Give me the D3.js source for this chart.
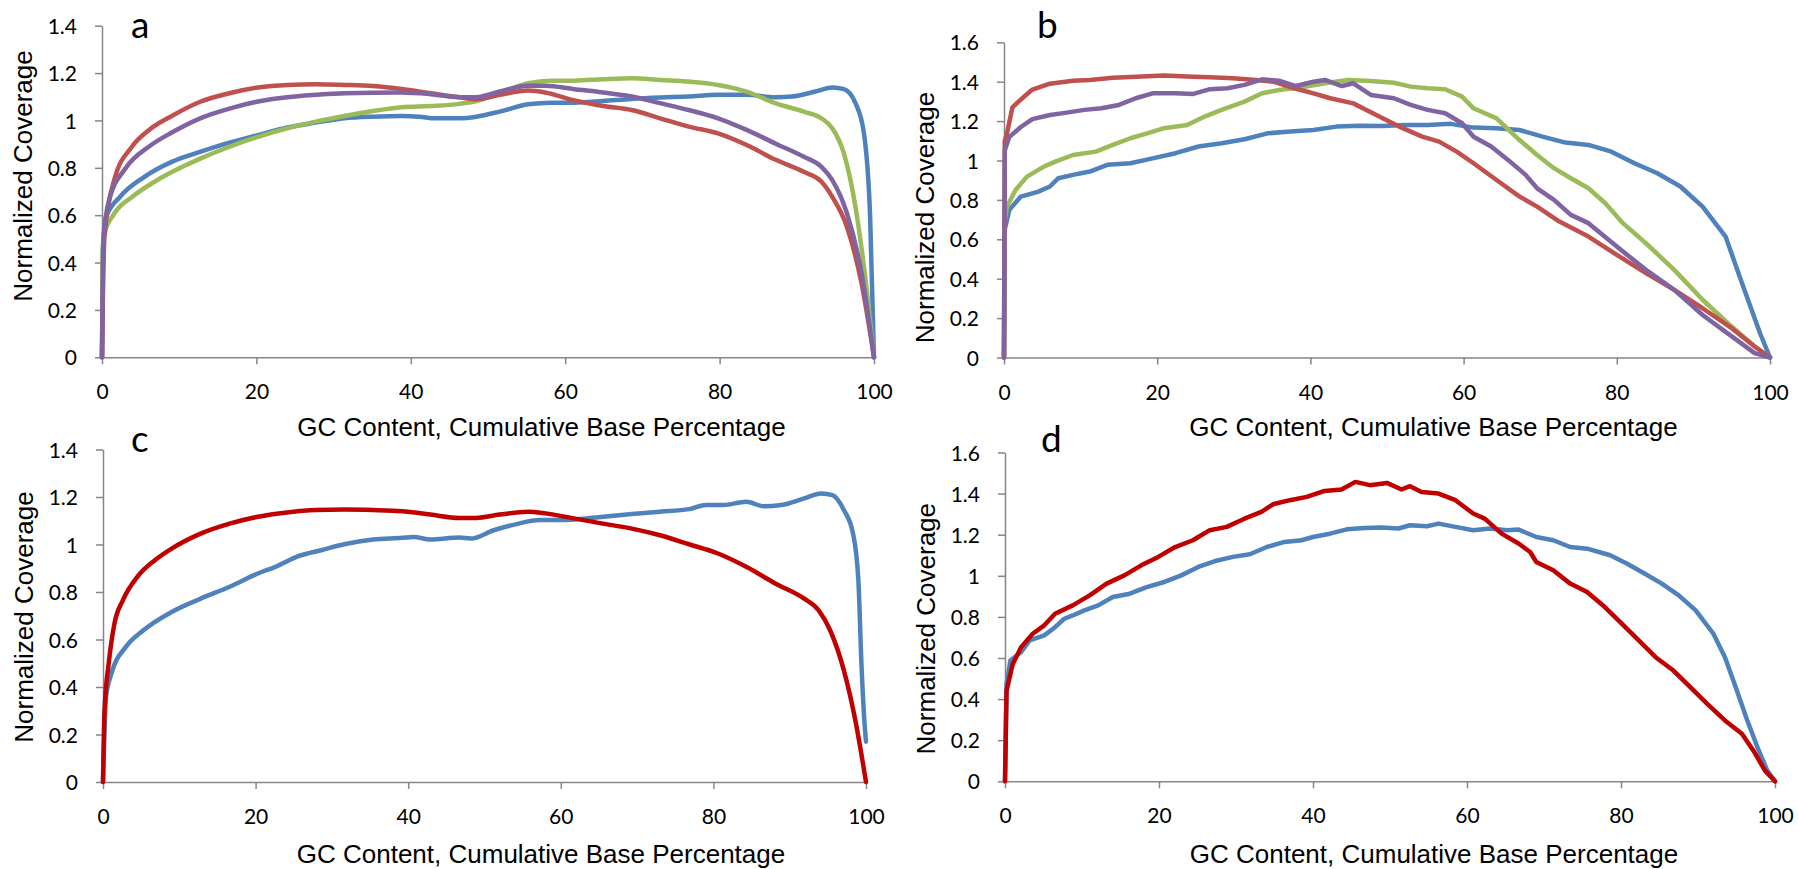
<!DOCTYPE html>
<html><head><meta charset="utf-8">
<script src="https://cdn.jsdelivr.net/npm/d3@7"></script>
<style>
html,body{margin:0;padding:0;background:#fff;}
svg{display:block;}
</style></head>
<body>
<svg id="chart" width="1798" height="869"></svg>
<script>
// ---------- DATA ----------
const xTicks = [0, 20, 40, 60, 80, 100];
const yTicksAC = [0, 0.2, 0.4, 0.6, 0.8, 1, 1.2, 1.4];
const yTicksBD = [0, 0.2, 0.4, 0.6, 0.8, 1, 1.2, 1.4, 1.6];
const panelLetters = ["a", "b", "c", "d"];
const xTitle = "GC Content, Cumulative Base Percentage";
const yTitle = "Normalized Coverage";

// panel a
const aRed = [[0,0],[0.3,0.5],[1.6,0.75],[3.9,0.89],[6.1,0.96],[9.1,1.02],[12.8,1.08],[16.5,1.115],[20.2,1.139],[24,1.15],[27.7,1.153],[31.4,1.15],[35.1,1.145],[38.8,1.133],[42.6,1.115],[46.3,1.098],[48.5,1.09],[51.5,1.108],[55.2,1.126],[57.4,1.118],[61.2,1.084],[64.9,1.061],[68.6,1.044],[72.3,1.009],[76,0.974],[79.8,0.945],[83.5,0.896],[87.2,0.835],[90.9,0.783],[93.2,0.741],[94.6,0.677],[96.5,0.55],[98.4,0.31],[100,0]];
const aPurple = [[0,0],[0.2,0.5],[0.9,0.66],[3.1,0.8],[6.1,0.89],[9.1,0.95],[12.8,1.01],[16.5,1.05],[20.2,1.08],[24,1.098],[27.7,1.108],[31.4,1.115],[38.8,1.118],[42.6,1.111],[46.3,1.098],[48.5,1.098],[51.5,1.122],[55.2,1.146],[57.4,1.146],[61.2,1.132],[64.9,1.118],[68.6,1.101],[72.3,1.073],[76,1.044],[79.8,1.009],[83.5,0.96],[87.2,0.903],[90.9,0.847],[93.2,0.804],[94.6,0.748],[96.5,0.607],[98.4,0.353],[100,0]];
const aBlue = [[0,0],[0.1,0.45],[0.5,0.59],[2.4,0.68],[5.4,0.76],[9.1,0.826],[12.8,0.868],[16.5,0.906],[20.2,0.938],[24,0.97],[27.7,0.991],[31.4,1.009],[35.1,1.016],[38.8,1.019],[41.1,1.016],[43.3,1.009],[46.3,1.009],[48.5,1.016],[51.5,1.037],[55.2,1.068],[58.2,1.075],[61.2,1.075],[64.9,1.082],[68.6,1.091],[72.3,1.097],[76,1.101],[79.8,1.108],[83.5,1.108],[87.2,1.098],[89.4,1.101],[92.4,1.122],[94.6,1.139],[96.1,1.132],[97.6,1.073],[98.7,0.945],[99.5,0.59],[100,0]];
const aGreen = [[0,0],[0.1,0.42],[0.3,0.52],[1.6,0.607],[3.9,0.677],[6.8,0.741],[9.1,0.783],[12.8,0.84],[16.5,0.889],[20.2,0.931],[24,0.967],[27.7,0.995],[31.4,1.019],[35.1,1.04],[38.8,1.056],[42.6,1.061],[46.3,1.07],[48.5,1.082],[51.5,1.115],[55.2,1.157],[58.2,1.168],[61.2,1.168],[64.9,1.174],[68.6,1.178],[72.3,1.171],[76,1.164],[79.8,1.15],[83.5,1.122],[87.2,1.073],[90.9,1.037],[93.2,1.009],[94.6,0.967],[96.1,0.861],[97.6,0.635],[98.7,0.381],[100,0]];

// panel b
const bRed = [[0,0],[0.1,1.1],[0.4,1.14],[1.1,1.27],[2.2,1.31],[3.7,1.36],[6,1.39],[9,1.405],[11.2,1.409],[14.2,1.42],[18,1.426],[20.9,1.432],[23.9,1.426],[26.9,1.422],[29.9,1.417],[32.9,1.409],[35.2,1.4],[37.4,1.372],[40.4,1.341],[42.6,1.316],[45.6,1.29],[48.6,1.231],[51.6,1.172],[54.6,1.121],[56.8,1.096],[59.1,1.045],[61.3,0.986],[64.3,0.901],[67.3,0.817],[69.6,0.766],[72.5,0.69],[76.3,0.614],[80,0.521],[83.8,0.428],[87.5,0.343],[91.2,0.25],[95,0.149],[98,0.056],[100,0]];
const bPurple = [[0,0],[0.1,1.05],[0.7,1.12],[2.2,1.17],[3.7,1.21],[6,1.231],[8.2,1.243],[10.5,1.257],[12.7,1.265],[15,1.282],[17.2,1.316],[19.4,1.341],[22.4,1.341],[24.7,1.338],[26.9,1.362],[29.2,1.367],[31.4,1.384],[33.7,1.412],[35.9,1.405],[38.1,1.378],[40.4,1.4],[41.9,1.409],[44.1,1.378],[45.6,1.392],[47.9,1.333],[50.9,1.316],[53.1,1.282],[55.3,1.257],[57.6,1.24],[59.8,1.189],[61.3,1.121],[63.6,1.071],[65.8,1.003],[68.1,0.927],[69.6,0.859],[71.8,0.8],[74,0.724],[76.3,0.682],[80,0.563],[83.8,0.445],[87.5,0.343],[91.2,0.216],[95,0.107],[98,0.022],[100,0]];
const bGreen = [[0,0],[0.1,0.7],[0.4,0.766],[1.5,0.85],[3,0.918],[5.2,0.969],[6.7,0.994],[9,1.028],[12,1.045],[14.2,1.079],[16.5,1.113],[18.7,1.138],[20.9,1.164],[23.9,1.18],[26.2,1.223],[28.4,1.257],[31.4,1.299],[33.7,1.341],[35.9,1.358],[38.9,1.372],[41.9,1.392],[44.9,1.409],[47.9,1.404],[50.9,1.395],[53.1,1.375],[55.3,1.367],[57.6,1.362],[59.8,1.324],[61.3,1.265],[64.3,1.214],[67.3,1.104],[69.6,1.028],[71.8,0.961],[74,0.91],[76.3,0.859],[78.5,0.783],[80.8,0.682],[83.8,0.58],[87.5,0.445],[91.2,0.293],[95,0.157],[98,0.056],[100,0]];
const bBlue = [[0,0],[0.1,0.65],[0.7,0.75],[2.2,0.817],[4.5,0.842],[6,0.868],[7.1,0.91],[9,0.927],[11.2,0.944],[13.5,0.978],[16.5,0.986],[19.4,1.011],[22.4,1.037],[25.4,1.071],[28.4,1.088],[31.4,1.108],[34.4,1.138],[37.4,1.147],[40.4,1.155],[43.4,1.172],[46.4,1.177],[49.4,1.175],[52.4,1.18],[55.3,1.18],[58.3,1.186],[61.3,1.167],[64.3,1.164],[67.3,1.155],[70.3,1.121],[73.3,1.091],[76.3,1.079],[79.3,1.045],[82.3,0.986],[85.3,0.935],[88.3,0.868],[91.2,0.766],[94.2,0.614],[96.5,0.36],[98.7,0.123],[100,0]];

// panel c
const cBlue = [[0,0],[0.4,0.358],[1.1,0.456],[3,0.569],[5.3,0.639],[9,0.716],[12.8,0.772],[16.6,0.822],[20.3,0.878],[22.6,0.906],[25.6,0.951],[28.6,0.976],[31.6,1.001],[35.4,1.021],[39.2,1.028],[40.7,1.032],[42.9,1.021],[46.7,1.029],[48.2,1.025],[51.2,1.06],[54.2,1.086],[57.2,1.103],[60.2,1.103],[63.3,1.11],[66.3,1.119],[69.3,1.128],[73,1.138],[76.8,1.149],[79.1,1.166],[81.3,1.166],[84.3,1.18],[86.6,1.161],[88.9,1.166],[91.9,1.194],[94.1,1.215],[95.6,1.208],[97.1,1.145],[98.3,1.046],[99,0.85],[99.4,0.5],[99.8,0.25],[100,0.17]];
const cRed = [[0,0],[0.2,0.3],[0.75,0.5],[1.5,0.667],[2.6,0.765],[4.5,0.864],[6.8,0.934],[9,0.983],[12.8,1.046],[16.6,1.088],[20.3,1.117],[24.1,1.135],[27.9,1.145],[31.6,1.147],[35.4,1.145],[39.2,1.14],[42.9,1.126],[46.7,1.112],[48.9,1.112],[52,1.126],[55.7,1.138],[58,1.131],[61.7,1.11],[65.5,1.088],[69.3,1.067],[73,1.039],[76.8,1.001],[80.6,0.962],[84.3,0.906],[88.1,0.836],[91.9,0.772],[93.8,0.723],[95.3,0.639],[97.1,0.47],[98.6,0.26],[100,0]];

// panel d
const dBlue = [[0,0],[0.2,0.474],[0.7,0.588],[2.1,0.629],[3.2,0.686],[5.1,0.71],[6.5,0.75],[7.7,0.791],[8.8,0.807],[10.3,0.832],[12.1,0.856],[14,0.897],[16.2,0.913],[18.4,0.945],[20.7,0.97],[22.9,1.002],[25.1,1.043],[27.3,1.072],[29.6,1.092],[31.8,1.105],[34,1.14],[36.3,1.165],[38.5,1.173],[40,1.189],[42.2,1.205],[44.4,1.226],[46.7,1.233],[48.9,1.235],[51.1,1.23],[52.6,1.246],[54.8,1.241],[56.3,1.254],[58.5,1.238],[60.8,1.222],[63,1.23],[65.2,1.222],[66.7,1.225],[69,1.189],[71.2,1.173],[73.4,1.14],[75.6,1.132],[78.6,1.1],[80.8,1.059],[83.1,1.01],[85.3,0.962],[87.5,0.905],[89.7,0.832],[92,0.718],[93.5,0.604],[94.9,0.458],[96.4,0.296],[97.9,0.149],[99,0.052],[100,0]];
const dRed = [[0,0],[0.2,0.44],[1,0.57],[2.1,0.653],[3.6,0.718],[5.1,0.759],[6.5,0.815],[8.8,0.856],[11,0.905],[13.2,0.962],[15.5,1.002],[17.7,1.051],[19.9,1.092],[22.1,1.14],[24.4,1.173],[26.6,1.222],[28.8,1.238],[31.1,1.278],[33.3,1.311],[34.8,1.348],[37,1.368],[39.2,1.384],[41.5,1.413],[43.7,1.42],[45.5,1.457],[47.4,1.441],[49.6,1.452],[51.5,1.42],[52.6,1.436],[54.1,1.408],[56.3,1.4],[58.5,1.368],[60.8,1.303],[62.3,1.278],[64.5,1.205],[66.7,1.157],[68.2,1.116],[69,1.067],[71.2,1.027],[73.4,0.962],[75.6,0.921],[77.9,0.848],[80.1,0.767],[82.3,0.686],[84.5,0.604],[86.8,0.539],[89,0.458],[91.2,0.377],[93.5,0.296],[95.7,0.231],[97.2,0.149],[98.7,0.052],[100,0]];

// ---------- STYLE / LAYOUT ----------
const COL = {blue:"#4F81BD", red:"#C0504D", green:"#9BBB59", purple:"#8064A2", dark:"#C00000"};
const panels = [
  {letter:"a", x0:102, x1:874, yb:357.3, yt:25.7, ymax:1.4, ticks:yTicksAC, smooth:true,
   series:[[aBlue,COL.blue],[aGreen,COL.green],[aRed,COL.red],[aPurple,COL.purple]],
   lx:131, ly:38, txc:541.5, tyb:436, yTx:32, yTc:176},
  {letter:"b", x0:1004, x1:1770, yb:357.5, yt:42.3, ymax:1.6, ticks:yTicksBD, smooth:false,
   series:[[bBlue,COL.blue],[bGreen,COL.green],[bRed,COL.red],[bPurple,COL.purple]],
   lx:1037, ly:38, txc:1433.5, tyb:436, yTx:934, yTc:217.5},
  {letter:"c", x0:103, x1:866, yb:782, yt:449.5, ymax:1.4, ticks:yTicksAC, smooth:true,
   series:[[cBlue,COL.blue],[cRed,COL.dark]],
   lx:131, ly:452, txc:541, tyb:863, yTx:33, yTc:617},
  {letter:"d", x0:1005, x1:1775, yb:781.3, yt:452.5, ymax:1.6, ticks:yTicksBD, smooth:false,
   series:[[dBlue,COL.blue],[dRed,COL.dark]],
   lx:1041, ly:452, txc:1434, tyb:863, yTx:935, yTc:628.7}
];

const svg = d3.select("#chart");
const AX = "#868686";
const fmt = d => String(+d.toFixed(1));

panels.forEach((p, i) => {
  const x = d3.scaleLinear().domain([0, 100]).range([p.x0, p.x1]);
  const y = d3.scaleLinear().domain([0, p.ymax]).range([p.yb, p.yt]);
  const g = svg.append("g");

  // y axis
  const yAxis = d3.axisLeft(y).tickValues(p.ticks).tickFormat(fmt).tickSize(7).tickSizeOuter(0);
  const gy = g.append("g").attr("transform", `translate(${p.x0},0)`).call(yAxis);
  gy.select(".domain").attr("stroke", AX).attr("stroke-width", 1.5);
  gy.selectAll(".tick line").attr("stroke", AX).attr("stroke-width", 1.5);
  gy.selectAll(".tick text").attr("x", -25).attr("dy", "0.36em")
    .attr("font-family", "Lato, 'Open Sans', sans-serif").attr("font-size", 21).attr("fill", "#000");

  // x axis
  const xAxis = d3.axisBottom(x).tickValues(xTicks).tickFormat(d => d).tickSize(7).tickSizeOuter(0);
  const gx = g.append("g").attr("transform", `translate(0,${p.yb})`).call(xAxis);
  gx.select(".domain").attr("stroke", AX).attr("stroke-width", 1.5);
  gx.selectAll(".tick line").attr("stroke", AX).attr("stroke-width", 1.5);
  gx.selectAll(".tick text").attr("y", 42).attr("dy", 0)
    .attr("font-family", "Lato, 'Open Sans', sans-serif").attr("font-size", 21).attr("fill", "#000");

  // lines
  const line = d3.line().x(d => x(d[0])).y(d => y(d[1]))
    .curve(p.smooth ? d3.curveMonotoneX : d3.curveLinear);
  p.series.forEach(([data, col]) => {
    g.append("path").datum(data).attr("d", line)
      .attr("fill", "none").attr("stroke", col).attr("stroke-width", 4.5)
      .attr("stroke-linejoin", "round").attr("stroke-linecap", "round");
  });

  // titles
  g.append("text").attr("x", p.txc).attr("y", p.tyb).attr("text-anchor", "middle")
    .attr("font-family", "'Liberation Sans', Arial, sans-serif").attr("font-size", 26).attr("fill", "#000")
    .text(xTitle);
  g.append("text").attr("transform", `translate(${p.yTx},${p.yTc}) rotate(-90)`).attr("text-anchor", "middle")
    .attr("font-family", "'Liberation Sans', Arial, sans-serif").attr("font-size", 26).attr("fill", "#000")
    .text(yTitle);

  // panel letter
  g.append("text").attr("x", p.lx).attr("y", p.ly)
    .attr("font-family", "Lato, 'Open Sans', sans-serif").attr("font-size", 37).attr("fill", "#000")
    .text(panelLetters[i]);
});
</script>
</body></html>
